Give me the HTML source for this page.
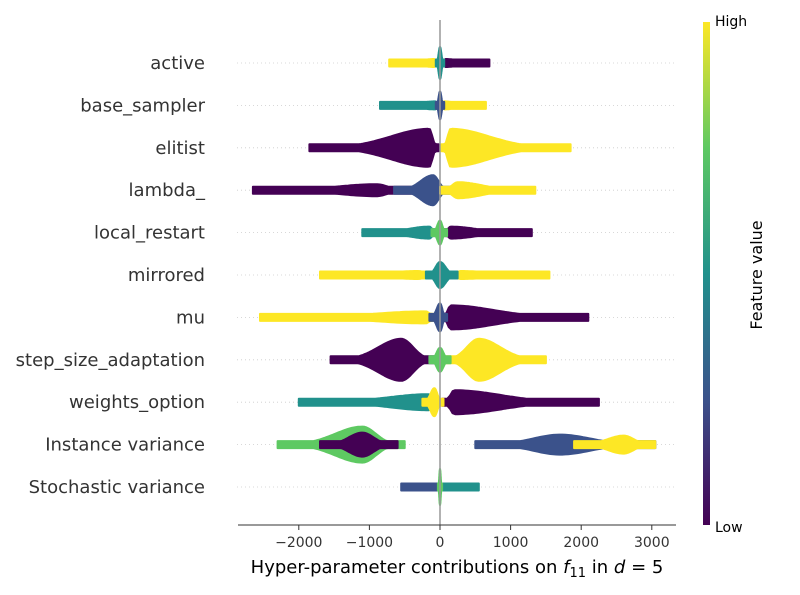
<!DOCTYPE html>
<html><head><meta charset="utf-8"><style>
body{margin:0;background:#fff;}
svg text{font-family:"DejaVu Sans","Liberation Sans",sans-serif;}
</style></head><body>
<svg id="chart" width="800" height="590" xmlns="http://www.w3.org/2000/svg">
<defs><linearGradient id="vir" x1="0" y1="1" x2="0" y2="0">
<stop offset="0" stop-color="#440154"/><stop offset="0.25" stop-color="#3b528b"/><stop offset="0.5" stop-color="#21918c"/><stop offset="0.75" stop-color="#5ec962"/><stop offset="1" stop-color="#fde725"/></linearGradient></defs>
<g id="grid"></g><g id="marks"></g><g id="labels"></g><g id="axis"></g>
<rect x="703" y="22" width="7" height="503" fill="url(#vir)"/>
<text x="715" y="26" font-size="14" fill="#000">High</text>
<text x="715" y="532" font-size="14" fill="#000">Low</text>
<text transform="translate(762,275) rotate(-90)" text-anchor="middle" font-size="16" fill="#000">Feature value</text>
<text x="457" y="573" text-anchor="middle" font-size="18" fill="#000">Hyper-parameter contributions on <tspan font-style="italic">f</tspan><tspan font-size="13" dy="4">11</tspan><tspan dy="-4"> in </tspan><tspan font-style="italic">d</tspan> = 5</text>
</svg>
<script>
const features=["active","base_sampler","elitist","lambda_","local_restart","mirrored","mu","step_size_adaptation","weights_option","Instance variance","Stochastic variance"];
const xTicks=[-2000,-1000,0,1000,2000,3000];
// blobs per feature: [lo, hi, peak, halfThicknessPx, colorValue 0..1]
const blobs=[
 [[-720,-60,-80,4,1],[60,700,80,4,0],[-60,60,0,16,0.6]],
 [[-850,-40,-60,4,0.5],[40,650,60,4,1],[-60,60,0,14,0.3]],
 [[-1850,-20,-150,19,0],[20,1850,150,19,1]],
 [[-2650,-400,-900,6,0],[-650,150,-100,15,0.3],[0,1350,250,8,1]],
 [[-1100,-30,-150,6,0.55],[30,1300,150,6,0],[-120,100,0,12,0.8]],
 [[-1700,-100,-300,4,1],[100,1550,300,4,1],[-200,250,0,13,0.45]],
 [[-2550,-20,-200,6,1],[20,2100,150,12,0],[-150,100,0,14,0.3]],
 [[-1550,-20,-550,21,0],[20,1500,550,21,1],[-150,150,0,12,0.75]],
 [[-2000,-30,-150,8,0.5],[30,2250,200,12,0],[-250,50,-80,14,1]],
 [[-2300,-500,-1100,18,0.75],[-1700,-600,-1100,12,0],[500,3050,1700,10,0.25],[1900,3050,2600,9,1]],
 [[-550,-40,-60,3,0.3],[40,550,60,3,0.6],[-30,30,0,18,0.8]]
];
const x0=440,pxPer=0.0706;
function xs(v){return x0+v*pxPer;}
function ys(i){return 63+i*42.4;}
const vir=["#440154","#3b528b","#21918c","#5ec962","#fde725"];
function col(t){return vir[Math.round(t*4)];}
const NS="http://www.w3.org/2000/svg";
function mk(tag,attrs,parent){const e=document.createElementNS(NS,tag);for(const k in attrs)e.setAttribute(k,attrs[k]);parent.appendChild(e);return e;}
const grid=document.getElementById('grid'),marks=document.getElementById('marks'),labels=document.getElementById('labels'),axis=document.getElementById('axis');
features.forEach((f,i)=>{
 const y=ys(i);
 const g=mk('line',{x1:237,x2:675,y1:y,y2:y,stroke:'#ccc','stroke-width':0.8,'stroke-dasharray':'1,3'},grid);
 
 
 const t=mk('text',{x:205,y:y+6,'text-anchor':'end','font-size':18,fill:'#333'},labels);
 t.textContent=f;
 
 
 blobs[i].forEach(b=>{
  const [lo,hi,pk,th,c]=b;const N=60;let top=[],bot=[];
  const sl=Math.max(1,(pk-lo)*0.45),sr=Math.max(1,(hi-pk)*0.45);
  for(let k=0;k<=N;k++){const v=lo+(hi-lo)*k/N;
   const d=v<=pk?(pk-v)/sl:(v-pk)/sr;
   const h=Math.max(3.5,th*Math.exp(-d*d));
   top.push(xs(v).toFixed(1)+','+(y-h).toFixed(1));bot.unshift(xs(v).toFixed(1)+','+(y+h).toFixed(1));}
  const pg=mk('polygon',{points:top.concat(bot).join(' '),fill:col(c),stroke:col(c),'stroke-width':2,'stroke-linejoin':'round'},marks);
  
  
 });
});
const vl=mk('line',{x1:440,x2:440,y1:20,y2:525,stroke:'#999','stroke-width':1.5},axis);


const ax=mk('line',{x1:238,x2:676,y1:525,y2:525,stroke:'#333','stroke-width':1},axis);


xTicks.forEach(v=>{
 const tk=mk('line',{x1:xs(v),x2:xs(v),y1:525,y2:530,stroke:'#333'},axis);
 
 
 const tl=mk('text',{x:xs(v),y:547,'text-anchor':'middle','font-size':14,fill:'#333'},axis);
 tl.textContent=(v<0?'\u2212'+(-v):String(v));
 
 
});
</script>
</body></html>
